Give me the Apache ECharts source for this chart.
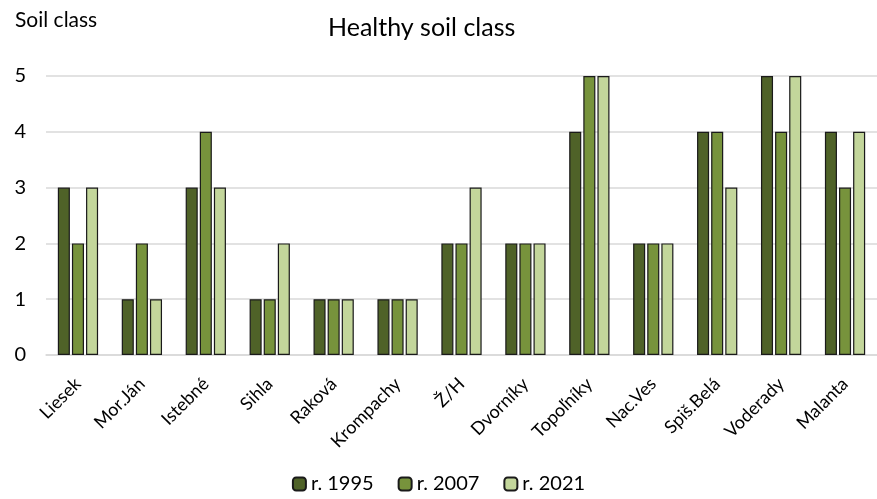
<!DOCTYPE html>
<html><head><meta charset="utf-8">
<script src="https://cdn.jsdelivr.net/npm/echarts@6/dist/echarts.min.js"></script>
<style>html,body{margin:0;padding:0;background:#fff}#c{width:877px;height:499px}</style>
</head><body><div id="c"></div>
<script>
const categories = ['Liesek','Mor.Ján','Istebné','Sihla','Raková','Krompachy','Ž/H','Dvorníky','Topoľníky','Nac.Ves','Spiš.Belá','Voderady','Malanta'];
const s1995 = [3,1,3,1,1,1,2,2,4,2,4,5,4];
const s2007 = [2,2,4,1,1,1,2,2,5,2,4,4,3];
const s2021 = [3,1,3,2,1,1,3,2,5,2,3,5,4];
const yTicks = [0,1,2,3,4,5];
const FONT = 'Lato, "Open Sans", sans-serif';
const chart = echarts.init(document.getElementById('c'));
function bar(name, data, color){
  return {name, type:'bar', data, barGap:'17%', barCategoryGap:'37%',
    itemStyle:{color, borderColor:'#1a1a1a', borderWidth:1.2}};
}
chart.setOption({
  animation:false,
  title:[
    {text:'Healthy soil class', left:323, top:10, textStyle:{fontFamily:FONT, fontSize:25, fontWeight:'normal', color:'#000'}},
    {text:'Soil class', left:10, top:5, textStyle:{fontFamily:FONT, fontSize:21, fontWeight:'normal', color:'#000'}}
  ],
  legend:{bottom:0, left:'center', itemWidth:13, itemHeight:13, itemGap:24,
    textStyle:{fontFamily:FONT, fontSize:20, color:'#000'},
    data:['r. 1995','r. 2007','r. 2021']},
  grid:{left:46, right:0, top:76, bottom:144, containLabel:false},
  xAxis:{type:'category', data:categories,
    axisLine:{lineStyle:{color:'#d9d9d9', width:1.5}}, axisTick:{show:false},
    axisLabel:{rotate:45, margin:26, fontFamily:FONT, fontSize:18, color:'#000', interval:0}},
  yAxis:{type:'value', min:0, max:5, interval:1,
    axisLabel:{fontFamily:FONT, fontSize:20, color:'#000', margin:20,
      formatter: v => yTicks.includes(v) ? String(v) : ''},
    splitLine:{lineStyle:{color:'#d9d9d9', width:1.5}}, axisLine:{show:false}, axisTick:{show:false}},
  series:[
    bar('r. 1995', s1995, '#4F6228'),
    bar('r. 2007', s2007, '#77933C'),
    bar('r. 2021', s2021, '#C3D69B')
  ]
});
</script></body></html>
